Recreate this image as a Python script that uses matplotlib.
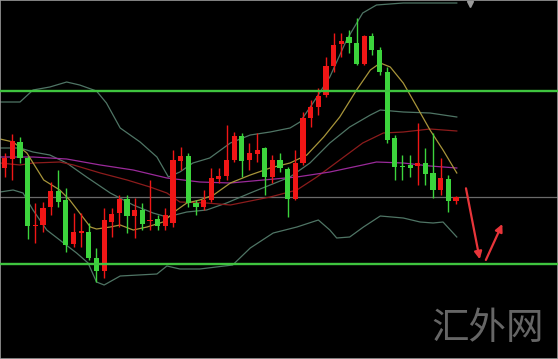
import matplotlib
matplotlib.use("Agg")
import matplotlib.pyplot as plt
import numpy as np

# ---- candle data (price points, arbitrary units) ----
opens = [191, 200, 217, 201, 133, 134, 152, 168, 159, 115, 126, 127, 101, 88, 137, 146, 160, 143, 149, 138,
         140, 133, 136, 198, 203, 156, 152, 159, 180, 183, 199, 223, 199, 205, 211, 182, 199, 190, 160, 196,
         241, 252, 264, 293, 315, 322, 316, 295, 323, 309, 287, 221, 193, 194, 193, 196, 186, 169, 180, 158]
highs = [206, 225, 222, 203, 156, 157, 177, 189, 171, 146, 146, 136, 111, 151, 151, 164, 164, 161, 156, 179,
         144, 151, 209, 212, 206, 159, 169, 191, 191, 234, 227, 226, 216, 226, 212, 204, 206, 192, 209, 247,
         259, 271, 302, 326, 326, 329, 341, 324, 326, 312, 292, 224, 204, 204, 236, 211, 226, 201, 184, 163]
lows = [182, 179, 196, 120, 116, 127, 144, 152, 107, 112, 112, 99, 77, 81, 122, 132, 126, 121, 129, 129,
        129, 129, 132, 189, 152, 144, 149, 157, 176, 179, 197, 182, 189, 197, 164, 176, 187, 142, 159, 194,
        232, 244, 262, 287, 302, 306, 294, 294, 304, 284, 216, 179, 179, 182, 174, 174, 161, 164, 147, 155]
closes = [201, 218, 201, 133, 134, 151, 168, 157, 114, 127, 128, 101, 88, 139, 145, 160, 143, 149, 135, 139,
          133, 144, 199, 203, 156, 152, 159, 181, 183, 199, 223, 198, 206, 209, 182, 199, 191, 160, 196, 241,
          252, 263, 293, 314, 318, 316, 295, 323, 309, 287, 219, 192, 192, 191, 196, 185, 169, 181, 158, 162]

# ---- indicator lines (bar index, value) ----
ub_x = [-0.6, 2.0, 3.7, 5.9, 8.1, 9.8, 12.0, 13.3, 15.1, 17.7, 19.9, 21.4, 22.9, 24.6, 26.8, 29.5, 32.1, 34.7,
        37.3, 38.6, 40.3, 42.5, 44.7, 46.8, 48.6, 52.1, 59.1]
ub_y = [257, 257, 269, 272, 277, 274, 268, 256, 231, 217, 202, 182, 187, 196, 201, 216, 224, 227,
        231, 237, 256, 282, 319, 346, 354, 356, 356]
mb_x = [-0.6, 2.0, 3.7, 5.9, 8.1, 10.7, 13.8, 16.8, 19.4, 21.2, 23.8, 26.4, 29.0, 32.1, 34.7, 37.3, 39.9, 42.5,
        45.1, 47.8, 49.1, 52.1, 55.6, 59.1]
mb_y = [211, 211, 207, 204, 196, 182, 166, 154, 146, 142, 147, 149, 156, 166, 174, 182, 196, 216,
        232, 244, 249, 247, 246, 242]
lb_x = [-0.6, 1.1, 2.4, 3.7, 5.5, 7.7, 9.4, 10.9, 12.0, 13.0, 15.1, 19.9, 21.2, 22.9, 25.5, 29.8, 32.1, 35.1,
        38.2, 41.0, 42.5, 43.4, 45.1, 46.9, 49.1, 52.1, 54.3, 56.0, 57.3, 59.1]
lb_y = [167, 169, 166, 149, 129, 116, 106, 96, 77, 74, 83, 85, 93, 90, 90, 94, 111, 126,
        132, 139, 129, 121, 122, 132, 143, 141, 137, 136, 137, 122]
red_x = [-0.6, 2.0, 3.7, 7.2, 9.0, 12.5, 16.0, 19.0, 21.2, 22.9, 26.4, 29.5, 34.7, 38.2, 40.8, 43.8, 46.8,
         49.5, 52.1, 55.6, 59.1]
red_y = [196, 194, 196, 197, 194, 186, 179, 172, 166, 157, 156, 154, 162, 169, 182, 199, 216,
         226, 227, 230, 228]
pur_x = [-0.6, 3.7, 8.1, 12.5, 16.8, 21.2, 25.5, 29.5, 33.8, 38.2, 42.5, 46.8, 48.6, 52.1, 55.6, 59.1]
pur_y = [202, 202, 200, 194, 189, 181, 177, 176, 179, 182, 187, 194, 197, 196, 193, 191]
yel_x = [-0.6, 1.1, 2.9, 5.1, 7.2, 8.5, 9.8, 11.2, 12.0, 13.8, 15.1, 16.8, 18.6, 20.7, 22.5, 23.8, 25.5, 27.3,
         29.5, 32.1, 34.7, 37.3, 39.5, 41.7, 43.8, 46.0, 47.8, 49.1, 50.4, 52.1, 53.9, 55.6, 57.3, 59.1]
yel_y = [220, 217, 206, 179, 169, 159, 146, 132, 130, 132, 134, 129, 132, 137, 149, 156, 159, 164,
         176, 184, 191, 196, 204, 222, 242, 269, 289, 296, 292, 276, 252, 229, 209, 186]

# horizontal levels
green_levels = [268.5, 95.5]
gray_level = 162

UP = '#f01616'
DN = '#3cd43c'

fig = plt.figure(figsize=(5.58, 3.59), dpi=100)
fig.patch.set_facecolor('black')
ax = fig.add_axes([0, 0, 1, 1])
ax.set_facecolor('black')
ax.set_xlim(-0.614, 72.33)
ax.set_ylim(0, 359)
ax.set_xticks([])
ax.set_yticks([])
for s in ax.spines.values():
    s.set_color('#9a9a9a')
    s.set_linewidth(1.2)

ax.axhline(gray_level, color='#6a6a6a', lw=0.9, zorder=1)

band_c = '#4f7565'
ax.plot(ub_x, ub_y, color=band_c, lw=0.9, zorder=2)
ax.plot(mb_x, mb_y, color=band_c, lw=0.9, zorder=2)
ax.plot(lb_x, lb_y, color=band_c, lw=0.9, zorder=2)
ax.plot(red_x, red_y, color='#8c1c1c', lw=0.9, zorder=2)
ax.plot(pur_x, pur_y, color='#9a2a9a', lw=0.9, zorder=2)
ax.plot(yel_x, yel_y, color='#a8953a', lw=0.9, zorder=2)

o = np.array(opens); h = np.array(highs); l = np.array(lows); c = np.array(closes)
idx = np.arange(len(o))
cols = [UP if cc >= oo else DN for oo, cc in zip(o, c)]
ax.vlines(idx, l, h, colors=cols, lw=1.0, zorder=3)
bottoms = np.minimum(o, c)
heights = np.maximum(np.abs(c - o), 1.3)
ax.bar(idx, heights, bottom=bottoms, width=0.68, color=cols, edgecolor=cols, lw=0, zorder=4)

for g in green_levels:
    ax.axhline(g, color='#3fc43f', lw=1.7, zorder=5)

# red arrows
arr = dict(arrowstyle='-|>', color='#e8353a', lw=1.6, mutation_scale=11, shrinkA=0, shrinkB=0)
ax.annotate('', xy=(62.1, 99.7), xytext=(60.3, 170.7), arrowprops=arr, zorder=6)
ax.annotate('', xy=(65.05, 135), xytext=(62.9, 99), arrowprops=arr, zorder=6)

# small marker at top
fig.lines.append(plt.Line2D([470 / 558], [1 - 4 / 359], transform=fig.transFigure, marker='v',
                            markersize=5, color='#9a9a9a', lw=0))

fig.text(488 / 558, 1 - 329 / 359, '汇外网', color='#666666', fontsize=27,
         family=['Noto Sans CJK SC', 'DejaVu Sans'], ha='center', va='center')

fig.savefig('out.png', dpi=100, facecolor='black')
